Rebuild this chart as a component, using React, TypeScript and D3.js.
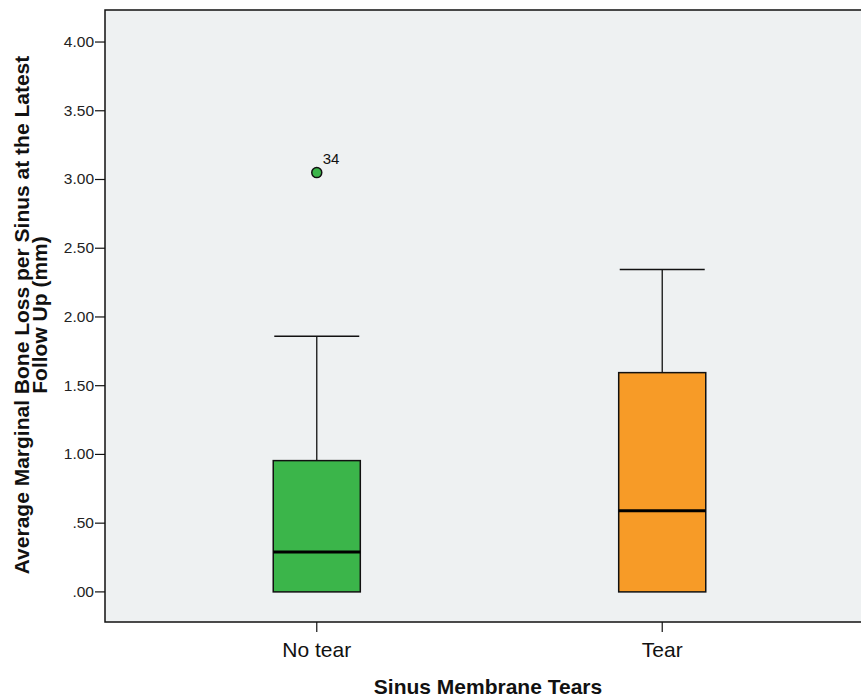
import { useEffect, useRef } from "react";
import * as d3 from "d3";

const groups = ["No tear", "Tear"];
const lowerWhisker = [0, 0];
const q1 = [0, 0];
const medians = [0.29, 0.59];
const q3 = [0.955, 1.595];
const upperWhisker = [1.86, 2.345];
const fills = ["#3bb54a", "#f79b27"];
const outlierGroup = ["No tear"];
const outlierValue = [3.05];
const outlierCase = ["34"];
const yTicks = [0, 0.5, 1, 1.5, 2, 2.5, 3, 3.5, 4];

const fmt = (v: number) => (v === 0 ? ".00" : d3.format(".2f")(v).replace(/^0\./, "."));

export default function App(): JSX.Element {
  const ref = useRef<SVGSVGElement | null>(null);

  useEffect(() => {
    if (!ref.current) return;
    const width = 861;
    const height = 697;
    const left = 105;
    const right = 874;
    const top = 10;
    const bottom = 622;

    const y = d3.scaleLinear().domain([-0.219, 4.233]).range([bottom, top]);
    const x = d3.scalePoint<string>().domain(groups).range([left, right]).padding(0.613);
    const step = x.step();
    const boxW = step * 0.252;
    const capW = step * 0.123;

    const svg = d3.select(ref.current).attr("width", width).attr("height", height);
    svg.selectAll("*").remove();

    svg
      .append("rect")
      .attr("x", left)
      .attr("y", top)
      .attr("width", right - left)
      .attr("height", bottom - top)
      .attr("fill", "#eef1f2")
      .attr("stroke", "#111")
      .attr("stroke-width", 1.5);

    // y axis ticks
    const ya = svg.append("g");
    ya.selectAll("line")
      .data(yTicks)
      .join("line")
      .attr("x1", left - 10)
      .attr("x2", left)
      .attr("y1", (d) => y(d))
      .attr("y2", (d) => y(d))
      .attr("stroke", "#111")
      .attr("stroke-width", 1.2);
    ya.selectAll("text")
      .data(yTicks)
      .join("text")
      .attr("x", left - 11)
      .attr("y", (d) => y(d) + 5)
      .attr("text-anchor", "end")
      .attr("font-family", "Arial, 'Liberation Sans', sans-serif")
      .attr("font-size", 15.5)
      .attr("fill", "#222")
      .text((d) => fmt(d));

    // x axis ticks
    const xa = svg.append("g");
    xa.selectAll("line")
      .data(groups)
      .join("line")
      .attr("x1", (d) => x(d)!)
      .attr("x2", (d) => x(d)!)
      .attr("y1", bottom)
      .attr("y2", bottom + 10)
      .attr("stroke", "#111")
      .attr("stroke-width", 1.2);
    xa.selectAll("text")
      .data(groups)
      .join("text")
      .attr("x", (d) => x(d)!)
      .attr("y", 657)
      .attr("text-anchor", "middle")
      .attr("font-family", "Arial, 'Liberation Sans', sans-serif")
      .attr("font-size", 21)
      .attr("fill", "#111")
      .text((d) => d);

    // boxes
    const g = svg.append("g");
    groups.forEach((name, i) => {
      const cx = x(name)!;
      g.append("line")
        .attr("x1", cx)
        .attr("x2", cx)
        .attr("y1", y(q3[i]))
        .attr("y2", y(upperWhisker[i]))
        .attr("stroke", "#111")
        .attr("stroke-width", 1.3);
      g.append("line")
        .attr("x1", cx - capW)
        .attr("x2", cx + capW)
        .attr("y1", y(upperWhisker[i]))
        .attr("y2", y(upperWhisker[i]))
        .attr("stroke", "#111")
        .attr("stroke-width", 1.5);
      g.append("line")
        .attr("x1", cx)
        .attr("x2", cx)
        .attr("y1", y(q1[i]))
        .attr("y2", y(lowerWhisker[i]))
        .attr("stroke", "#111")
        .attr("stroke-width", 1.3);
      g.append("rect")
        .attr("x", cx - boxW / 2)
        .attr("y", y(q3[i]))
        .attr("width", boxW)
        .attr("height", y(q1[i]) - y(q3[i]))
        .attr("fill", fills[i])
        .attr("stroke", "#111")
        .attr("stroke-width", 1.5);
      g.append("line")
        .attr("x1", cx - boxW / 2)
        .attr("x2", cx + boxW / 2)
        .attr("y1", y(medians[i]))
        .attr("y2", y(medians[i]))
        .attr("stroke", "#000")
        .attr("stroke-width", 3);
    });

    // outliers
    outlierGroup.forEach((name, k) => {
      const i = groups.indexOf(name);
      const cx = x(name)!;
      const cy = y(outlierValue[k]);
      g.append("circle")
        .attr("cx", cx)
        .attr("cy", cy)
        .attr("r", 5)
        .attr("fill", fills[i])
        .attr("stroke", "#111")
        .attr("stroke-width", 1.5);
      g.append("text")
        .attr("x", cx + 6)
        .attr("y", cy - 9)
        .attr("font-family", "Arial, 'Liberation Sans', sans-serif")
        .attr("font-size", 15)
        .attr("fill", "#111")
        .text(outlierCase[k]);
    });

    // axis titles
    svg
      .append("text")
      .attr("x", 488)
      .attr("y", 694)
      .attr("text-anchor", "middle")
      .attr("font-family", "Arial, 'Liberation Sans', sans-serif")
      .attr("font-weight", "bold")
      .attr("font-size", 21)
      .attr("fill", "#111")
      .text("Sinus Membrane Tears");

    const yt = svg
      .append("text")
      .attr("transform", "translate(0,315) rotate(-90)")
      .attr("text-anchor", "middle")
      .attr("font-family", "Arial, 'Liberation Sans', sans-serif")
      .attr("font-weight", "bold")
      .attr("font-size", 21)
      .attr("fill", "#111");
    yt.append("tspan").attr("x", 0).attr("y", 29).text("Average Marginal Bone Loss per Sinus at the Latest");
    yt.append("tspan").attr("x", 0).attr("y", 47).text("Follow Up (mm)");
  }, []);

  return (
    <svg
      ref={ref}
      style={{ position: "absolute", left: 0, top: 0, display: "block", overflow: "hidden", background: "#fff" }}
    />
  );
}
